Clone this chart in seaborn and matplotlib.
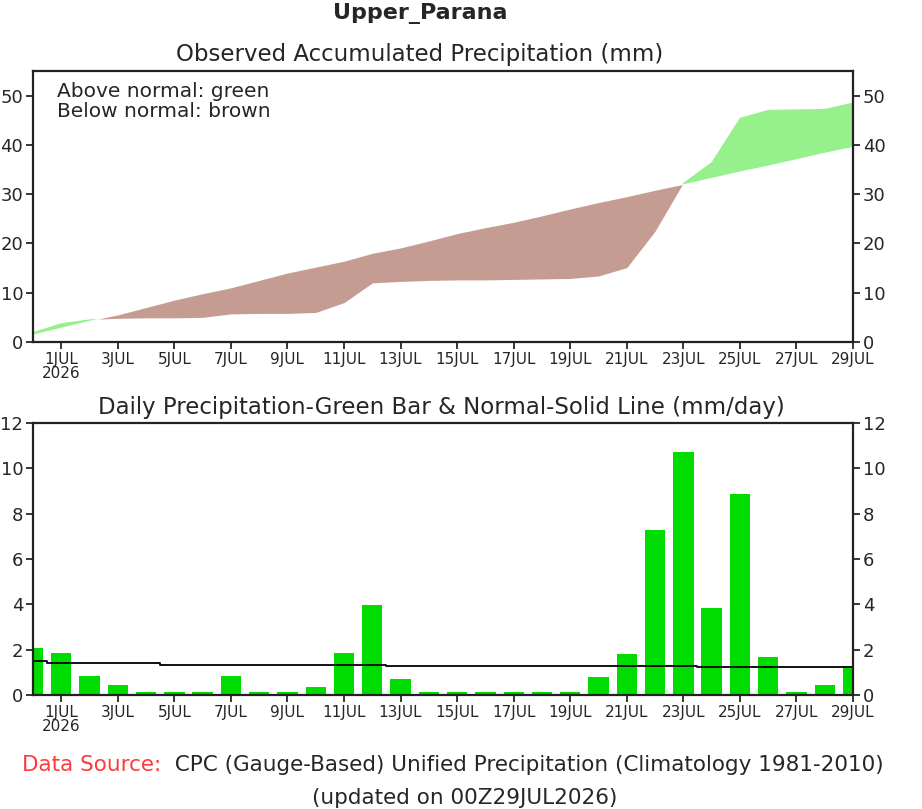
import numpy as np
import matplotlib
matplotlib.use("Agg")
import matplotlib.pyplot as plt
import seaborn as sns

# days from 30JUN to 29JUL 2026
days = list(range(30))
tick_days = list(range(1, 30, 2))
tick_labels = ["1JUL\n2026"] + ["%dJUL" % d for d in range(3, 30, 2)]

# accumulated precipitation (mm)
obs_accum = [2.0, 3.8, 4.6, 4.8, 4.9, 4.9, 5.0, 5.7, 5.8, 5.8,
             6.0, 8.0, 12.0, 12.3, 12.5, 12.6, 12.6, 12.7, 12.8, 12.9,
             13.4, 15.1, 22.5, 32.3, 36.5, 45.5, 47.1, 47.2, 47.3, 48.6]
normal_accum = [1.5, 2.9, 4.3, 5.5, 7.0, 8.5, 9.8, 11.0, 12.5, 14.0,
                15.2, 16.4, 18.0, 19.1, 20.5, 22.0, 23.2, 24.3, 25.6, 27.0,
                28.3, 29.5, 30.8, 32.0, 33.3, 34.6, 35.8, 37.1, 38.4, 39.6]

# daily precipitation (mm/day) and daily normal
daily = [2.07, 1.86, 0.84, 0.43, 0.15, 0.15, 0.15, 0.84, 0.15, 0.15,
         0.37, 1.86, 3.99, 0.69, 0.15, 0.15, 0.15, 0.15, 0.15, 0.15,
         0.78, 1.79, 7.30, 10.72, 3.86, 8.87, 1.66, 0.15, 0.43, 1.30]
daily_normal = [1.51, 1.41, 1.41, 1.41, 1.41, 1.33, 1.33, 1.33, 1.33, 1.33,
                1.33, 1.33, 1.33, 1.29, 1.29, 1.29, 1.29, 1.29, 1.29, 1.29,
                1.29, 1.29, 1.29, 1.29, 1.23, 1.23, 1.23, 1.23, 1.23, 1.23]

GREEN_LIGHT = "#96f08c"
BROWN = "#c49c92"
GREEN_BAR = "#00dc00"

sns.set_style("ticks")
plt.rcParams["font.family"] = ["DejaVu Sans"]

fig = plt.figure(figsize=(9.22, 8.09), dpi=100)
W, H = 922.0, 809.0

def add_axes(left, top, right, bottom):
    return fig.add_axes([left / W, 1 - bottom / H, (right - left) / W, (bottom - top) / H])

ax1 = add_axes(33, 71, 853, 342)
ax2 = add_axes(33, 423, 853, 695)

# top panel: accumulated, green above normal / brown below
x = np.array(days, dtype=float)
obs = np.array(obs_accum)
nrm = np.array(normal_accum)
ax1.fill_between(x, nrm, obs, where=obs >= nrm, interpolate=True,
                 color=GREEN_LIGHT, linewidth=0)
ax1.fill_between(x, nrm, obs, where=obs < nrm, interpolate=True,
                 color=BROWN, linewidth=0)
ax1.set_ylim(0, 55)
ax1.set_yticks(range(0, 51, 10))
ax1.text(0.029, 0.96, "Above normal: green\nBelow normal: brown", transform=ax1.transAxes,
         ha="left", va="top", fontsize=14.5, linespacing=1.05)

# bottom panel: daily bars + normal
sns.barplot(x=days, y=daily, native_scale=True, color=GREEN_BAR, width=0.72,
            saturation=1, ax=ax2, linewidth=0)
sns.lineplot(x=days, y=daily_normal, color="black", linewidth=1.3,
             drawstyle="steps-mid", ax=ax2)
ax2.set_ylim(0, 12)
ax2.set_yticks(range(0, 13, 2))

for ax in (ax1, ax2):
    ax.set_xlim(0, 29)
    ax.set_xticks(tick_days)
    ax.set_xticklabels(tick_labels, fontsize=11, linespacing=0.9)
    ax.tick_params(axis="x", direction="out", length=5, width=1.3, pad=2, top=False)
    ax.tick_params(axis="y", direction="out", length=5, width=1.3, labelsize=13,
                   left=True, right=True, labelleft=True, labelright=True, pad=2)
    ax.set_xlabel("")
    ax.set_ylabel("")
    for s in ax.spines.values():
        s.set_visible(True)
        s.set_linewidth(1.6)
        s.set_color("#222222")

# titles
fig.text(420 / W, 1 - 13 / H, "Upper_Parana", ha="center", va="center",
         fontsize=16, fontweight="bold")
fig.text(420 / W, 1 - 55 / H, "Observed Accumulated Precipitation (mm)", ha="center",
         va="center", fontsize=16.5)
fig.text(441 / W, 1 - 408 / H, "Daily Precipitation-Green Bar & Normal-Solid Line (mm/day)",
         ha="center", va="center", fontsize=16.5)

src = fig.text(22 / W, 1 - 765 / H, "Data Source:", ha="left", va="center",
               fontsize=15.5, color="#ff3a3a")
ax2.annotate("  CPC (Gauge-Based) Unified Precipitation (Climatology 1981-2010)",
             xy=(1, 0.5), xycoords=src, ha="left", va="center", fontsize=15.5,
             annotation_clip=False)
fig.text(465 / W, 1 - 798 / H, "(updated on 00Z29JUL2026)", ha="center", va="center",
         fontsize=15.5)

fig.savefig("out.png", dpi=100)
